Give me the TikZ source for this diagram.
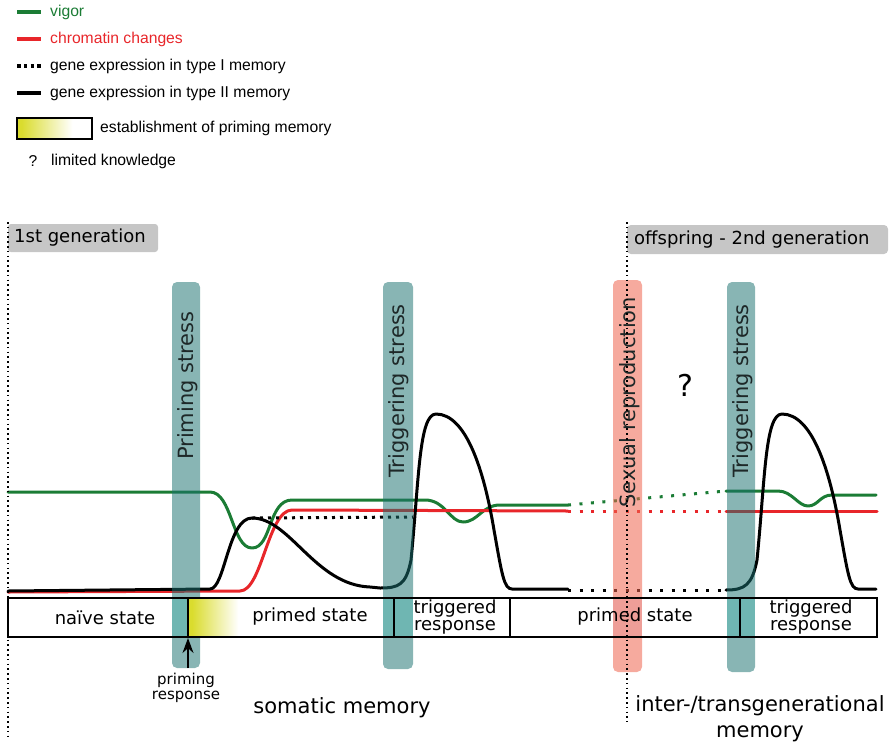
\documentclass[tikz,border=0pt]{standalone}
\usepackage{fontspec}
\setmainfont{DejaVu Sans}
\newfontfamily\legfont{Liberation Sans}
\usetikzlibrary{arrows.meta}
\definecolor{vgreen}{RGB}{27,124,53}
\definecolor{cred}{RGB}{232,38,42}
\definecolor{barteal}{RGB}{27,113,112}
\definecolor{barpink}{RGB}{238,100,78}
\definecolor{genbox}{RGB}{198,198,198}
\definecolor{ylw}{RGB}{218,220,46}
\definecolor{inteal}{RGB}{111,182,178}
\definecolor{inpink}{RGB}{238,158,152}
\definecolor{bartext}{RGB}{30,40,40}
\pgfdeclarehorizontalshading{primshade}{100bp}{color(0bp)=(ylw); color(28bp)=(ylw); color(62bp)=(white); color(100bp)=(white)}
\begin{document}
\begin{tikzpicture}[x=1pt,y=-1pt,
  curve/.style={line width=3pt, line join=round, line cap=round},
  dotcurve/.style={line width=3pt, dash pattern=on 3pt off 8.5pt},
  tealbar/.style={fill=barteal, fill opacity=.52, rounded corners=5pt},
  pinkbar/.style={fill=barpink, fill opacity=.55, rounded corners=5pt},
  bartxt/.style={rotate=90, anchor=base west, inner sep=0pt, font=\fontsize{21}{21}\selectfont, text=bartext},
  boxtxt/.style={font=\fontsize{18}{16.5}\selectfont, align=center, inner sep=0pt},
  bigtxt/.style={font=\fontsize{21}{26}\selectfont, align=center, inner sep=0pt},
  gentxt/.style={font=\fontsize{18}{18}\selectfont, anchor=west, inner sep=0pt},
  leg/.style={font=\legfont\fontsize{15.7}{16}\selectfont, anchor=west, inner sep=0pt},
  legline/.style={line width=4pt},
  gendot/.style={line width=1.6pt, dash pattern=on 1.6pt off 3.2pt},
  divider/.style={line width=2pt}]
\useasboundingbox (0,0) rectangle (892,745);

% ---------- legend ----------
\draw[legline, vgreen] (17,12) -- (41,12);
\node[leg, text=vgreen] (lvigor) at (50,12) {vigor};
\draw[legline, cred] (17,39) -- (41,39);
\node[leg, text=cred] (lchrom) at (50,39) {chromatin changes};
\draw[legline, dash pattern=on 3.5pt off 3.3pt] (17,66) -- (41,66);
\node[leg] (ltype1) at (50,66) {gene expression in type I memory};
\draw[legline] (17,93) -- (41,93);
\node[leg] (ltype2) at (50,93) {gene expression in type II memory};
\shade[shading=primshade] (17,118) rectangle (92,139);
\draw[line width=1.5pt] (17,118) rectangle (92,139);
\node[leg] (lest) at (100,128) {establishment of priming memory};
\node[leg, anchor=center] (lq) at (33,161) {?};
\node[leg] (lknow) at (51,161) {limited knowledge};

% ---------- generation boxes ----------
\fill[genbox, rounded corners=3pt] (8,224) rectangle (158,252);
\node[gentxt] (gen1) at (14,238) {1st generation};
\fill[genbox, rounded corners=4pt] (627,225) rectangle (888,254);
\node[gentxt] (gen2) at (634,240) {offspring - 2nd generation};

% ---------- curves ----------
% vigor
\draw[curve, vgreen] (8,492) -- (210,492) .. controls (232,492) and (232,548) .. (252,548)
  .. controls (272,548) and (268,500) .. (292,500) -- (425,500)
  .. controls (445,500) and (450,522) .. (463,522) .. controls (478,522) and (482,505) .. (500,505) -- (568,505);
\draw[dotcurve, vgreen] (568,505) -- (726,491);
\draw[curve, vgreen] (726,491) -- (778,491) .. controls (792,491) and (798,506) .. (808,506)
  .. controls (818,506) and (820,495) .. (832,495) -- (876,495);
% chromatin
\draw[curve, cred] (8,592) -- (240,591) .. controls (262,591) and (268,510) .. (292,510) -- (568,511);
\draw[dotcurve, cred] (568,511) -- (726,511);
\draw[curve, cred] (726,511) -- (877,511);
% type I memory
\draw[dotcurve, dash pattern=on 3pt off 5pt] (252,518) -- (413,517);
% type II memory
\draw[curve] (8,591) -- (210,589) .. controls (225,589) and (228,518) .. (252,518)
  .. controls (290,518) and (315,585) .. (370,587) -- (380,588)
  .. controls (399,588) and (406,585) .. (411,560) .. controls (419,480) and (419,414) .. (436,414)
  .. controls (466,414) and (484,470) .. (494,530) .. controls (502,575) and (504,589) .. (512,589) -- (568,589);
\draw[dotcurve] (568,590) -- (726,590);
\draw[curve] (726,590) .. controls (745,590) and (752,585) .. (757,560)
  .. controls (765,480) and (765,414) .. (782,414)
  .. controls (812,414) and (830,470) .. (840,530) .. controls (848,575) and (850,589) .. (858,589) -- (876,589);

% ---------- stress bars ----------
\fill[tealbar] (172,282) rectangle (200,668);
\fill[tealbar] (383,282) rectangle (413,669);
\fill[pinkbar] (613,280) rectangle (642,672);
\fill[tealbar] (727,282) rectangle (755,672);

% ---------- state box ----------
\fill[white] (8,598) rectangle (877,637);
\fill[inteal] (172,598) rectangle (188,637);
\shade[shading=primshade] (188,598) rectangle (256,637);
\fill[inteal] (383,598) rectangle (413,637);
\fill[inpink] (613,598) rectangle (642,637);
\fill[inteal] (727,598) rectangle (755,637);
\draw[divider] (188,598) -- (188,637);
\draw[divider] (394,598) -- (394,637);
\draw[divider] (510,598) -- (510,637);
\draw[divider] (740,598) -- (740,637);
\draw[line width=2pt] (8,598) rectangle (877,637);
\node[boxtxt] (naive) at (105,618) {naïve state};
\node[boxtxt] (primed1) at (310,617) {primed state};
\node[boxtxt] (trig1) at (455,617) {triggered\\response};
\node[boxtxt] (primed2) at (635,617) {primed state};
\node[boxtxt] (trig2) at (811,617) {triggered\\response};

% ---------- bar labels ----------
\node[bartxt] (prim) at (193,460) {Priming stress};
\node[bartxt] (tstress1) at (404,478) {Triggering stress};
\node[bartxt] (sexrep) at (635,508) {Sexual reproduction};
\node[bartxt] (tstress2) at (748,478) {Triggering stress};

% ---------- generation separators ----------
\draw[gendot] (8,222) -- (8,740);
\draw[gendot] (627,222) -- (627,722);

% ---------- other labels ----------
\node[font=\fontsize{30}{30}\selectfont, inner sep=0pt] (quest) at (685,385) {?};
\coordinate (armfoot) at (188,668);
\coordinate (armtip) at (188,638);
\draw[line width=1.5pt, -{Stealth[length=15pt,width=11pt]}] (armfoot) -- (armtip);
\node[font=\fontsize{15}{14.5}\selectfont, align=center, inner sep=0pt] (primresp) at (186,688) {priming\\response};
\node[bigtxt] (somatic) at (342,708) {somatic memory};
\node[bigtxt] (intertrans) at (760,719) {inter-/transgenerational\\memory};
\end{tikzpicture}
\end{document}
